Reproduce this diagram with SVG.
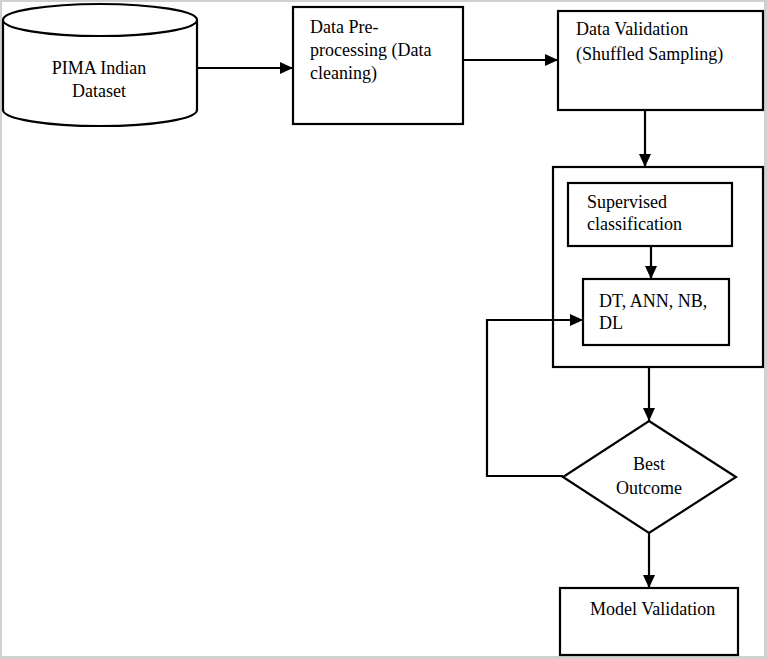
<svg xmlns="http://www.w3.org/2000/svg" width="767" height="659" viewBox="0 0 767 659">
<defs>
<marker id="ah" markerUnits="userSpaceOnUse" markerWidth="14" markerHeight="14" refX="13" refY="7" orient="auto">
<path d="M0,1 L13,7 L0,13 Z" fill="#000"/>
</marker>
<style>
.shape{fill:#fff;stroke:#000;stroke-width:2.2}
.conn{fill:none;stroke:#000;stroke-width:2.2}
.arr{marker-end:url(#ah)}
text{font-family:"Liberation Serif","Times New Roman",serif;font-size:18px;fill:#000}
.c{text-anchor:middle}
</style>
</defs>
<rect x="0" y="0" width="767" height="659" fill="#d0d0d0"/>
<rect x="2" y="2" width="762" height="654" fill="#fff"/>
<g id="pima">
<path class="shape" d="M3,20 L3,110 A97,16 0 0 0 197,110 L197,20"/>
<ellipse class="shape" cx="100" cy="20" rx="97" ry="16"/>
<text class="c" x="99" y="74">PIMA Indian</text>
<text class="c" x="99" y="97">Dataset</text>
</g>
<g id="preprocessing">
<rect class="shape" x="293" y="7" width="170" height="117"/>
<text x="310" y="33">Data Pre-</text>
<text x="310" y="56">processing (Data</text>
<text x="310" y="79">cleaning)</text>
</g>
<g id="validation">
<rect class="shape" x="558" y="11" width="205" height="99"/>
<text x="576" y="35">Data Validation</text>
<text x="576" y="60">(Shuffled Sampling)</text>
</g>
<g id="classifier-group">
<rect class="shape" x="553" y="167" width="210" height="200"/>
</g>
<g id="supervised">
<rect class="shape" x="568" y="183" width="164" height="63"/>
<text x="587" y="208">Supervised</text>
<text x="587" y="230">classification</text>
</g>
<g id="models">
<rect class="shape" x="583" y="279" width="146" height="66"/>
<text x="599" y="307">DT, ANN, NB,</text>
<text x="599" y="329">DL</text>
</g>
<g id="best-outcome">
<polygon class="shape" points="649,421 736,477 649,533 563,477"/>
<text class="c" x="649" y="470">Best</text>
<text class="c" x="649" y="494">Outcome</text>
</g>
<g id="model-validation">
<rect class="shape" x="560" y="588" width="178" height="67"/>
<text x="590" y="615">Model Validation</text>
</g>
<g id="connectors">
<line class="conn arr" x1="197" y1="68" x2="293" y2="68"/>
<line class="conn arr" x1="463" y1="60" x2="558" y2="60"/>
<line class="conn arr" x1="645" y1="110" x2="645" y2="167"/>
<line class="conn arr" x1="651" y1="246" x2="651" y2="279"/>
<line class="conn arr" x1="649" y1="367" x2="649" y2="421"/>
<polyline class="conn arr" points="563,476 487,476 487,320 583,320"/>
<line class="conn arr" x1="649" y1="533" x2="649" y2="588"/>
</g>
</svg>
